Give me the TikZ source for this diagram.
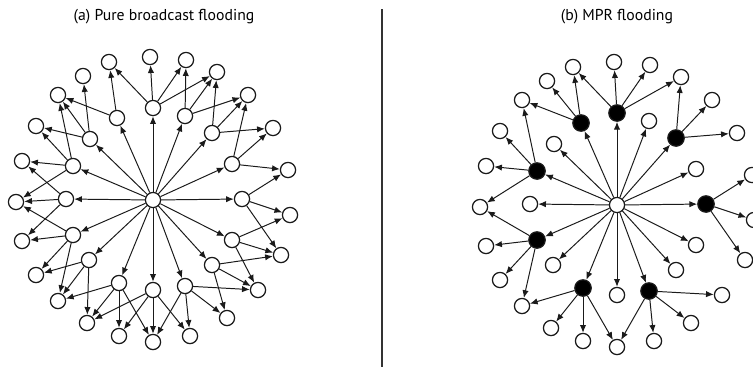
\documentclass[tikz,border=0pt]{standalone}
\usepackage{fontspec}
\setmainfont{PT Sans}
\usepackage{tikz}
\usetikzlibrary{positioning,arrows.meta,calc}
\definecolor{linegray}{HTML}{1A1A1A}
\definecolor{rulegray}{HTML}{333333}

\begin{document}
\begin{tikzpicture}[x=0.025cm, y=-0.025cm,
    every node/.style={font=\fontsize{11.2}{13}\selectfont},
    host/.style={circle, draw=linegray, line width=0.9pt, fill=white, minimum size=0.38cm, inner sep=0pt},
    mpr/.style={host, fill=black, minimum size=0.41cm},
    hop/.style={-{Latex[length=5.5pt,width=4.5pt]}, linegray, line width=0.7pt}]
    \useasboundingbox (0,0) rectangle (753,369);
    \node (ta) at (164,17) {(a) Pure broadcast flooding};
    \node (tb) at (617,17) {(b) MPR flooding};
    \coordinate (r0) at (382,9);
    \coordinate (r1) at (382,367);
    \draw[rulegray, line width=1pt] (r0) -- (r1);

    % (a) every neighbour forwards
    \node[host] (a) at (153,200) {};
    \foreach \k/\x/\y in {0/153/108, 1/185/116, 2/212/133, 3/232/164, 4/242/199, 5/232/240,
        6/212/265, 7/185/286, 8/153/290, 9/119/283, 10/89/260, 11/73/235, 12/66/199,
        13/73/166, 14/90/139, 15/117/118}
      \node[host] (a-i\k) at (\x,\y) {};
    \foreach \k/\x/\y in {0/150/57, 1/186/60, 2/217/72, 3/248/95, 4/273/128, 5/288/170,
        6/290/215, 7/281/255, 8/258/290, 9/227/318, 10/190/336, 11/153/342, 12/119/336,
        13/87/323, 14/58/301, 15/36/275, 16/22/241, 17/16/202, 18/22/161, 19/36/126,
        20/58/95, 21/83/76, 22/109/62}
      \node[host] (a-o\k) at (\x,\y) {};
    \foreach \k in {0,...,15}
      \draw[hop] (a) -- (a-i\k);
    \foreach \k/\ts in {0/{22,0,1,2}, 1/{1,2,3}, 2/{2,3,4}, 3/{3,4,5}, 4/{5,6,7}, 5/{6,7,8},
        6/{7,8,9}, 7/{8,9,10,11}, 8/{10,11,12,13}, 9/{11,12,13,14}, 10/{13,14,15},
        11/{14,15,16,17}, 12/{16,17,18}, 13/{17,18,19,20}, 14/{19,20,21}, 15/{20,22}}
      \foreach \t in \ts
        \draw[hop] (a-i\k) -- (a-o\t);

    % (b) only the MPRs forward
    \begin{scope}[shift={(464,5)}]
      \node[host] (b) at (153,200) {};
      \foreach \k/\x/\y/\s in {0/153/108/mpr, 1/185/116/host, 2/212/133/mpr, 3/232/164/host,
          4/242/199/mpr, 5/232/240/host, 6/212/265/host, 7/185/286/mpr, 8/153/290/host,
          9/119/283/mpr, 10/89/260/host, 11/73/235/mpr, 12/66/199/host, 13/73/166/mpr,
          14/90/139/host, 15/117/118/mpr}
        \node[\s] (b-i\k) at (\x,\y) {};
      \foreach \k/\x/\y in {0/150/57, 1/186/60, 2/217/72, 3/248/95, 4/273/128, 5/288/170,
          6/290/215, 7/281/255, 8/258/290, 9/227/318, 10/190/336, 11/153/342, 12/119/336,
          13/87/323, 14/58/301, 15/36/275, 16/22/241, 17/16/202, 18/22/161, 19/36/126,
          20/58/95, 21/83/76, 22/109/62}
        \node[host] (b-o\k) at (\x,\y) {};
      \foreach \k in {0,...,15}
        \draw[hop] (b) -- (b-i\k);
      \foreach \k/\ts in {0/{22,0,1,2}, 2/{2,3,4}, 4/{5,6,7}, 7/{8,9,10,11},
          9/{11,12,13,14}, 11/{14,15,16,17}, 13/{17,18,19,20}, 15/{20,21,22}}
        \foreach \t in \ts
          \draw[hop] (b-i\k) -- (b-o\t);
    \end{scope}
\end{tikzpicture}
\end{document}
